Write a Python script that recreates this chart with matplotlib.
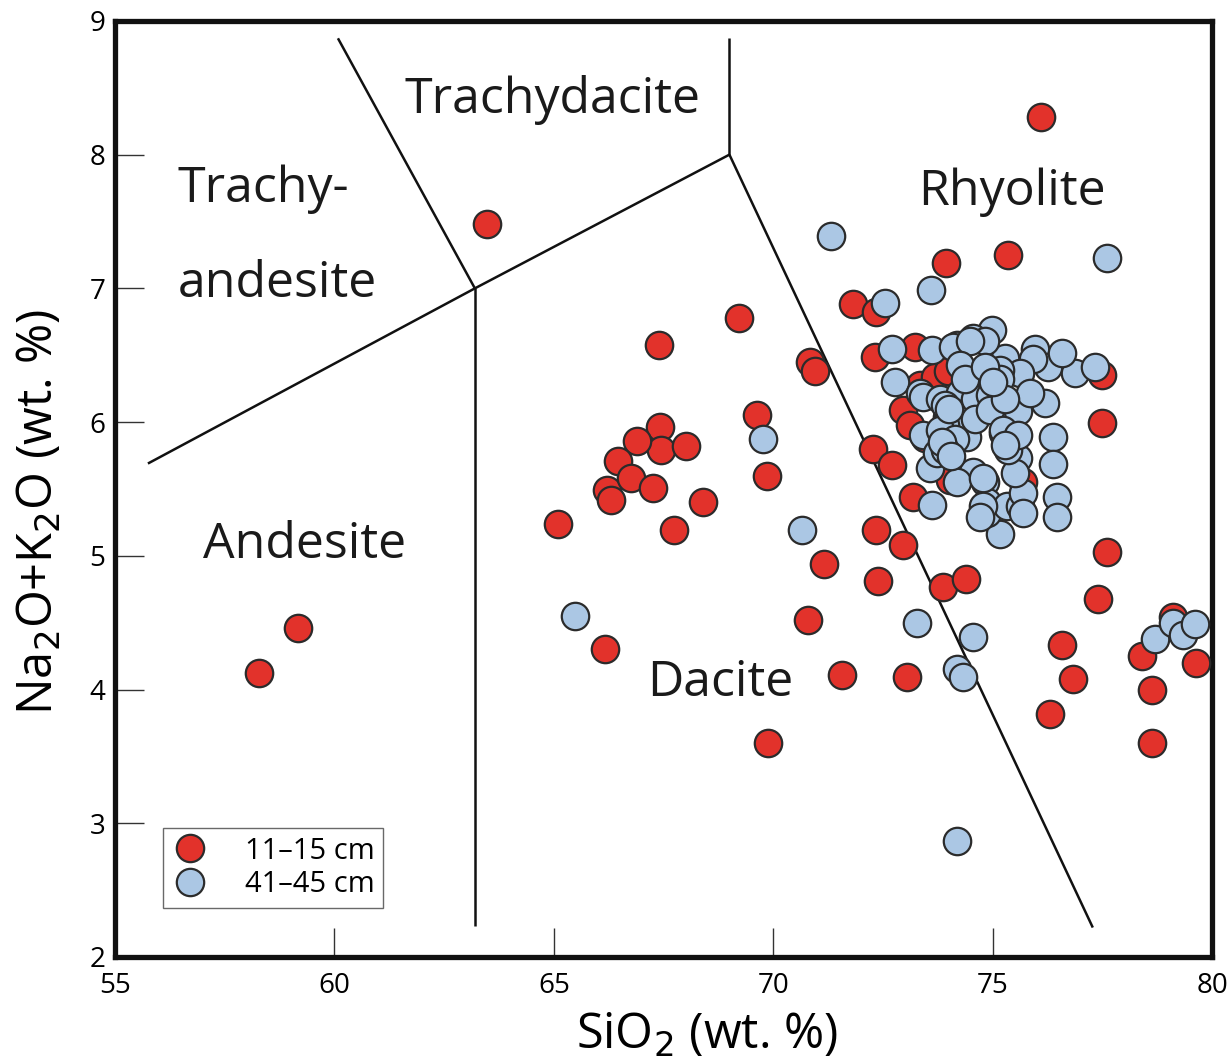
import matplotlib
matplotlib.use("Agg")
import matplotlib.pyplot as plt
from matplotlib.lines import Line2D

plt.rcParams['font.family'] = ['Open Sans', 'DejaVu Sans']

# ---- data: 11-15 cm (red) ----
red_sio2 = [76.09, 63.47, 75.34, 73.93, 71.81, 72.33, 69.21, 67.39, 70.83, 70.95,
            72.31, 73.22, 77.50, 77.50, 69.62, 69.85, 67.41, 67.44, 66.89, 68.00,
            66.46, 66.20, 66.30, 66.75, 67.25, 67.73, 68.39, 65.09, 66.16, 58.28,
            59.17, 69.87, 70.79, 71.15, 71.56, 72.33, 72.38, 72.95, 73.04, 73.86,
            74.38, 72.27, 72.70, 73.18, 76.30, 76.57, 76.82, 77.39, 77.60, 78.39,
            78.64, 78.64, 79.10, 79.64, 75.68, 73.34, 73.68, 73.97, 72.95, 73.11,
            73.45, 74.02]
red_alk = [8.28, 7.48, 7.25, 7.19, 6.88, 6.82, 6.78, 6.58, 6.45, 6.38,
           6.49, 6.56, 6.35, 5.99, 6.05, 5.60, 5.96, 5.79, 5.86, 5.82,
           5.71, 5.49, 5.42, 5.58, 5.51, 5.19, 5.40, 5.24, 4.30, 4.12,
           4.46, 3.60, 4.52, 4.94, 4.11, 5.19, 4.81, 5.08, 4.09, 4.77,
           4.83, 5.80, 5.68, 5.44, 3.82, 4.33, 4.08, 4.68, 5.03, 4.25,
           4.00, 3.60, 4.54, 4.20, 5.55, 6.28, 6.34, 6.38, 6.09, 5.98,
           5.88, 5.57]

# ---- data: 41-45 cm (blue) ----
blue_sio2 = [77.60, 71.31, 73.59, 72.54, 72.70, 72.77, 73.61, 74.98, 74.54, 74.18,
             75.96, 76.25, 76.87, 77.32, 76.57, 73.34, 76.37, 76.37, 76.46, 76.46,
             74.41, 73.56, 73.61, 75.16, 74.54, 74.82, 74.86, 74.86, 75.32, 75.62,
             75.68, 75.57, 75.50, 75.68, 75.23, 75.34, 76.18, 75.91,
             75.27, 75.62, 75.57, 75.84, 75.16, 74.82,
             73.41, 74.09, 74.48, 74.25, 74.70, 73.79, 74.25, 73.95, 74.48, 74.70,
             73.41, 73.95, 73.72, 74.18, 74.77, 74.77, 74.70,
             73.91, 74.25, 74.59, 74.93, 75.16, 74.36, 74.82, 73.91, 73.79, 74.13,
             73.91, 74.59, 74.93, 75.27, 75.23, 75.57, 75.27, 75.00, 74.00, 73.85,
             74.05,
             65.48, 69.76, 70.65, 73.27, 74.18, 74.32, 74.54, 74.18,
             78.69, 79.10, 79.33, 79.62]
blue_alk = [7.23, 7.39, 6.99, 6.89, 6.55, 6.30, 6.54, 6.69, 6.63, 6.58,
            6.55, 6.41, 6.37, 6.41, 6.52, 6.22, 5.89, 5.69, 5.44, 5.29,
            5.89, 5.66, 5.38, 5.16, 5.63, 5.55, 5.40, 5.32, 5.37, 5.37,
            5.47, 5.73, 5.62, 5.32, 5.92, 5.79, 6.14, 6.47,
            6.48, 6.37, 6.08, 6.22, 6.39, 6.61,
            6.19, 6.56, 6.61, 6.43, 6.34, 6.17, 6.22, 6.04, 6.09, 6.22,
            5.90, 5.96, 5.77, 5.55, 5.58, 5.37, 5.29,
            6.13, 6.02, 6.17, 6.20, 6.32, 6.32, 6.41, 5.98, 5.94, 5.87,
            5.79, 6.02, 6.09, 6.17, 5.94, 5.90, 5.83, 6.30, 6.10, 5.85,
            5.75,
            4.55, 5.87, 5.19, 4.50, 4.15, 4.09, 4.39, 2.87,
            4.38, 4.50, 4.41, 4.49]

# ---- TAS field boundaries (SiO2, alkali) ----
bound_trachydacite_x = [69.0, 69.0]
bound_trachydacite_y = [8.87, 8.0]
bound_rhyolite_x = [69.0, 77.28]
bound_rhyolite_y = [8.0, 2.22]
bound_top_x = [55.75, 63.2, 69.0]
bound_top_y = [5.69, 7.0, 8.0]
bound_ta_x = [60.08, 63.2]
bound_ta_y = [8.87, 7.0]
bound_and_x = [63.2, 63.2]
bound_and_y = [7.0, 2.23]

x_ticks = [55, 60, 65, 70, 75, 80]
y_ticks = [2, 3, 4, 5, 6, 7, 8, 9]

red_label = "11\u201315 cm"
blue_label = "41\u201345 cm"
red_color = "#E2322B"
blue_color = "#ABC7E4"

fig = plt.figure(figsize=(12.3, 10.62), dpi=100)
ax = fig.add_axes([0.0935, 0.0989, 0.892, 0.8814])

for bx, by in [(bound_trachydacite_x, bound_trachydacite_y),
               (bound_rhyolite_x, bound_rhyolite_y),
               (bound_top_x, bound_top_y),
               (bound_ta_x, bound_ta_y),
               (bound_and_x, bound_and_y)]:
    ax.plot(bx, by, color="#111111", lw=1.8, zorder=1, solid_capstyle='butt')

ms = 390
ax.scatter(red_sio2, red_alk, s=ms, c=red_color, edgecolors="#2b2b2b",
           linewidths=1.6, zorder=3)
ax.scatter(blue_sio2, blue_alk, s=ms, c=blue_color, edgecolors="#2b2b2b",
           linewidths=1.6, zorder=4)

lab_kw = dict(fontsize=36, color="#1a1a1a")
ax.text(64.98, 8.41, "Trachydacite", ha="center", va="center", **lab_kw)
ax.text(56.43, 7.74, "Trachy-", ha="left", va="center", **lab_kw)
ax.text(56.43, 7.03, "andesite", ha="left", va="center", **lab_kw)
ax.text(75.43, 7.72, "Rhyolite", ha="center", va="center", **lab_kw)
ax.text(59.33, 5.08, "Andesite", ha="center", va="center", **lab_kw)
ax.text(68.78, 4.05, "Dacite", ha="center", va="center", **lab_kw)

ax.set_xlim(55, 80)
ax.set_ylim(2, 9)
ax.set_xticks(x_ticks)
ax.set_yticks(y_ticks)
ax.tick_params(direction="in", length=21, width=1.0, labelsize=20,
               color="#333333")
ax.tick_params(axis="x", pad=11)
ax.tick_params(axis="y", pad=7)
for sp in ax.spines.values():
    sp.set_linewidth(3.8)
    sp.set_color("#111111")

ax.set_xlabel("SiO$_2$ (wt. %)", fontsize=35)
ax.set_ylabel("Na$_2$O+K$_2$O (wt. %)", fontsize=35)
ax.xaxis.set_label_coords(0.54, -0.058)
ax.yaxis.set_label_coords(-0.046, 0.475)

handles = [Line2D([], [], ls="", marker="o", markersize=19.7,
                  markerfacecolor=red_color, markeredgecolor="#2b2b2b",
                  markeredgewidth=1.6),
           Line2D([], [], ls="", marker="o", markersize=19.7,
                  markerfacecolor=blue_color, markeredgecolor="#2b2b2b",
                  markeredgewidth=1.6)]
leg = ax.legend(handles, [red_label, blue_label], loc="upper left",
                bbox_to_anchor=(0.044, 0.138), fontsize=21, frameon=True,
                fancybox=False, edgecolor="#444444", handletextpad=1.3,
                handlelength=1.2, borderpad=0.3, labelspacing=0.15,
                borderaxespad=0)
leg.get_frame().set_linewidth(1.0)

fig.savefig("out.png", dpi=100)
